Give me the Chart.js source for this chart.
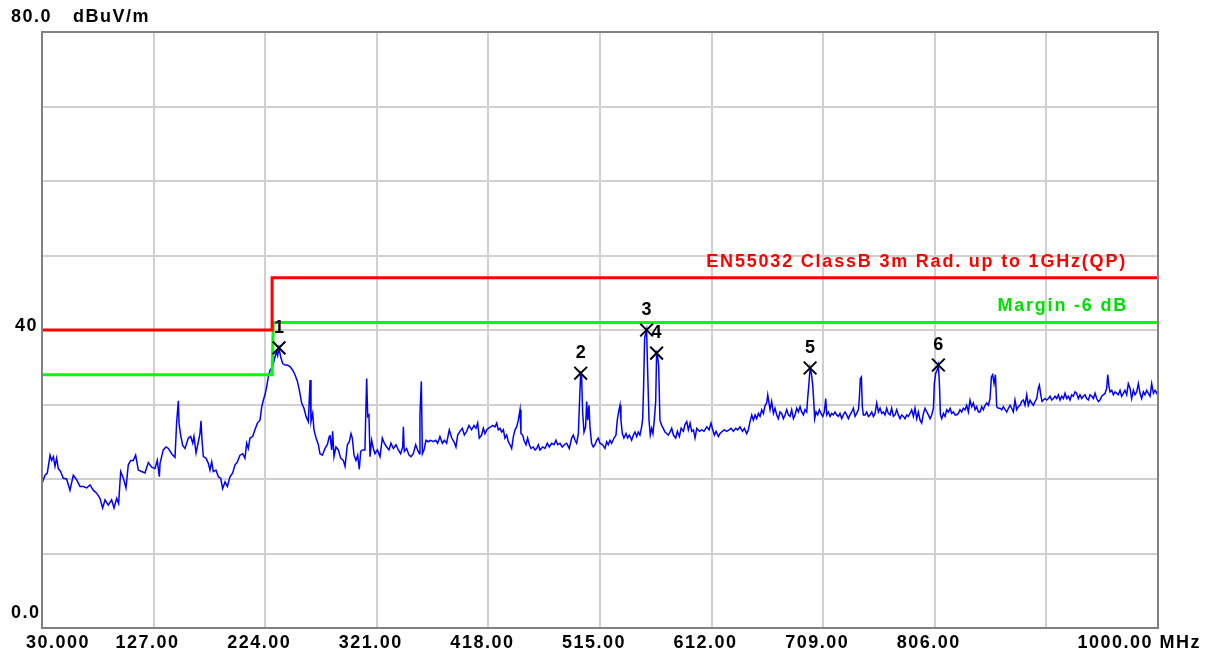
<!DOCTYPE html>
<html>
<head>
<meta charset="utf-8">
<title>EN55032 radiated emission</title>
<script src="https://cdn.jsdelivr.net/npm/chart.js@4.4.1/dist/chart.umd.min.js"></script>
<style>
  html, body { margin: 0; padding: 0; background: #fff; }
  #wrap { width: 1209px; height: 657px; position: relative; }
</style>
</head>
<body>
<div id="wrap"><canvas id="emi"></canvas></div>
<script>
// x axis (MHz) and y axis (dBuV/m)
const xTicks = [30, 127, 224, 321, 418, 515, 612, 709, 806, 903, 1000];
const xTickLabels = ['30.000', '127.00', '224.00', '321.00', '418.00', '515.00', '612.00', '709.00', '806.00', '', '1000.00 MHz'];
const yMin = 0, yMax = 80, yStep = 10;
const yLabels = [[80, '80.0'], [40, '40'], [0, '0.0']];
const yUnit = 'dBuV/m';

// limit line and margin line (step at 230 MHz)
const limitFreq = [30, 230, 230, 1000];
const limitLevel = [40, 40, 47, 47];
const marginFreq = [30, 230, 231, 1000];
const marginLevel = [34, 34, 41, 41];
const limitText = 'EN55032 ClassB 3m Rad. up to 1GHz(QP)';
const marginText = 'Margin -6 dB';

// measured peaks
const markerFreq = [236.0, 498.2, 555.5, 564.2, 697.6, 809.1];
const markerLevel = [37.6, 34.2, 40.0, 36.9, 34.9, 35.3];
const markerLabel = ['1', '2', '3', '4', '5', '6'];

// scan trace
const traceFreq = [
  // 30 - 157 MHz
  30.0, 32.6, 34.6, 37.0, 38.4, 39.9, 41.3, 42.7, 44.2, 46.2,
  48.5, 51.4, 54.3, 57.2, 60.1, 63.0, 65.9, 68.8, 71.7, 74.6,
  77.5, 80.4, 82.7, 84.8, 87.6, 90.5, 92.6, 94.9, 96.6, 98.4,
  100.7, 103.0, 105.0, 107.1, 109.4, 111.4, 113.7, 116.6, 119.5, 122.4,
  125.3, 128.2, 130.2, 132.0, 132.6, 135.4, 137.8, 139.8, 142.7, 145.6,
  147.0, 148.5, 149.1, 150.5, 152.3, 154.3, 157.2,
  // 159 - 280 MHz
  159.2, 161.0, 162.1, 163.9, 165.9, 167.3, 168.2, 169.1, 170.2, 172.5,
  174.6, 176.0, 177.5, 178.9, 181.2, 183.3, 185.3, 187.0, 189.1, 191.1,
  193.4, 195.7, 197.8, 199.8, 202.1, 204.4, 206.4, 207.9, 209.3, 210.8,
  213.1, 215.1, 217.2, 219.5, 221.0, 222.4, 223.8, 225.3, 226.7, 228.2,
  229.6, 231.1, 232.5, 234.0, 234.8, 236.0, 237.4, 239.2, 241.2, 243.2,
  245.6, 247.9, 249.9, 252.0, 253.7, 255.7, 257.7, 259.5, 261.5, 263.0,
  263.8, 265.3, 266.4, 268.2, 270.2, 271.6, 273.7, 276.0, 278.0, 279.7,
  // 280 - 410 MHz
  280.3, 281.8, 282.6, 283.8, 285.5, 287.6, 289.6, 291.9, 293.4, 295.4,
  297.1, 298.6, 299.7, 301.2, 302.9, 304.4, 305.8, 307.0, 308.7, 310.7,
  311.3, 312.2, 313.1, 314.2, 315.1, 316.5, 318.0, 319.4, 321.5, 323.8,
  325.8, 327.5, 329.6, 331.6, 333.3, 335.4, 337.7, 339.7, 341.7, 343.5,
  344.1, 344.9, 346.9, 349.0, 350.7, 352.7, 354.8, 356.5, 358.0, 358.5,
  359.7, 360.6, 362.0, 363.8, 365.8, 367.8, 370.1, 372.2, 373.9, 375.9,
  378.0, 379.7, 381.7, 384.0, 386.1, 388.1, 389.8, 391.3, 393.3, 395.3,
  397.1, 399.1, 401.1, 403.4, 405.5, 407.2, 408.7, 410.1,
  // 412 - 576 MHz
  412.1, 413.6, 415.0, 416.5, 417.9, 420.0, 421.7, 423.7, 425.2, 426.6,
  428.1, 429.5, 431.0, 432.4, 433.9, 435.3, 436.8, 438.2, 439.7, 441.1,
  442.6, 444.0, 445.5, 446.3, 447.8, 448.9, 450.7, 452.1, 453.6, 455.0,
  457.0, 458.5, 459.9, 461.4, 462.8, 465.2, 467.2, 469.2, 470.9, 473.0,
  475.0, 476.7, 478.2, 480.2, 482.2, 484.0, 486.0, 488.3, 490.4, 491.8,
  493.3, 494.7, 496.2, 497.0, 498.2, 499.0, 499.9, 501.1, 502.5, 503.4,
  504.3, 505.4, 506.3, 507.7, 509.2, 510.6, 512.1, 513.5, 515.0, 517.3,
  519.3, 520.8, 522.2, 523.7, 525.1, 527.2, 528.9, 530.0, 531.2, 532.4,
  533.2, 534.4, 535.8, 537.6, 539.0, 540.5, 542.5, 544.0, 545.4, 546.9,
  548.3, 549.7, 551.2, 552.1, 552.9, 553.8, 554.7, 555.5, 556.4, 557.6,
  558.7, 559.9, 561.0, 562.2, 563.4, 564.2, 565.1, 566.0, 567.1, 568.6,
  570.0, 571.5, 572.9, 574.4, 575.8,
  // 577 - 785 MHz
  577.3, 578.8, 580.8, 582.3, 584.0, 585.5, 587.5, 588.9, 590.4, 591.8,
  593.3, 594.7, 596.2, 597.6, 599.1, 601.4, 603.4, 605.4, 607.8, 609.8,
  611.5, 613.0, 614.4, 615.9, 617.9, 619.3, 621.4, 623.1, 625.1, 627.2,
  628.9, 630.9, 633.0, 634.7, 636.7, 638.8, 640.5, 642.5, 644.0, 645.4,
  646.9, 648.3, 649.8, 651.2, 652.7, 654.1, 655.6, 657.0, 658.5, 659.9,
  660.8, 661.9, 662.8, 664.2, 665.7, 667.1, 668.6, 670.0, 671.5, 672.9,
  674.4, 675.8, 677.3, 678.7, 680.2, 681.6, 683.1, 684.5, 686.0, 687.4,
  688.9, 690.3, 691.8, 693.2, 694.7, 695.5, 696.4, 697.6, 698.7, 699.9,
  700.7, 701.6, 702.8, 704.2, 705.7, 707.1, 708.6, 710.0, 711.2, 712.1,
  713.5, 715.0, 716.4, 717.8, 719.3, 720.7, 722.2, 723.6, 725.1, 726.5,
  728.0, 729.4, 730.9, 732.3, 733.8, 735.2, 736.7, 738.1, 739.6, 740.4,
  741.3, 742.2, 743.0, 743.9, 745.4, 746.8, 748.3, 749.7, 751.2, 752.6,
  754.1, 755.5, 757.0, 758.4, 759.9, 761.3, 762.7, 764.2, 765.6, 767.1,
  768.5, 770.0, 771.4, 772.9, 774.3, 775.8, 777.2, 778.7, 780.1, 781.6,
  783.0, 784.5,
  // 786 - 1000 MHz
  785.9, 787.4, 788.8, 790.3, 791.7, 793.2, 794.6, 796.1, 797.5, 799.0,
  800.4, 801.9, 803.3, 804.8, 805.6, 806.8, 808.0, 809.1, 810.0, 810.9,
  812.0, 813.5, 814.9, 816.4, 817.8, 819.3, 820.7, 822.2, 823.6, 825.0,
  826.5, 827.9, 829.4, 830.8, 832.3, 833.7, 835.2, 836.6, 838.1, 839.5,
  841.0, 842.4, 843.9, 845.3, 846.8, 848.2, 849.7, 851.1, 852.6, 854.0,
  855.2, 856.3, 857.5, 858.7, 859.8, 861.3, 862.7, 864.2, 865.6, 867.1,
  868.5, 870.0, 871.4, 872.8, 874.3, 875.7, 877.2, 878.6, 880.1, 881.5,
  883.0, 884.4, 885.9, 887.3, 888.8, 890.2, 891.7, 893.1, 894.6, 896.0,
  896.9, 898.1, 899.2, 900.4, 901.8, 903.3, 904.7, 906.2, 907.6, 909.1,
  910.5, 912.0, 913.4, 914.9, 916.3, 917.8, 919.2, 920.7, 922.1, 923.5,
  925.0, 926.4, 927.9, 929.3, 930.8, 932.2, 933.7, 935.1, 936.6, 938.0,
  939.5, 940.9, 942.4, 943.8, 945.3, 946.7, 948.2, 949.6, 951.1, 952.5,
  954.0, 955.4, 956.3, 957.4, 958.3, 959.8, 961.2, 962.7, 964.1, 965.5,
  967.0, 968.4, 969.9, 971.3, 972.8, 974.2, 975.7, 977.1, 978.6, 980.0,
  981.5, 982.9, 984.4, 985.8, 987.3, 988.7, 990.2, 991.6, 993.1, 994.5,
  996.0, 997.4, 998.9, 1000.0
];
const traceLevel = [
  // 30 - 157 MHz
  19.4, 20.5, 20.8, 23.2, 22.5, 23.0, 21.7, 22.8, 21.4, 21.0,
  20.1, 20.0, 18.5, 20.5, 19.9, 19.0, 19.0, 18.8, 19.2, 18.5,
  18.1, 17.4, 16.1, 17.2, 16.5, 17.2, 16.1, 17.4, 16.7, 21.0,
  20.1, 18.8, 21.9, 22.5, 22.5, 23.2, 21.2, 21.0, 20.8, 22.2,
  21.6, 21.4, 22.5, 20.3, 22.1, 23.9, 24.3, 24.1, 23.4, 22.9,
  27.5, 30.5, 27.5, 25.9, 24.5, 24.1, 25.5,
  // 159 - 280 MHz
  25.7, 24.8, 25.7, 23.5, 25.0, 26.1, 27.8, 25.2, 23.0, 22.8,
  22.1, 21.2, 22.3, 21.0, 21.2, 20.3, 20.1, 18.7, 19.6, 19.0,
  20.3, 20.8, 21.9, 22.3, 23.2, 23.4, 22.8, 24.8, 24.1, 25.5,
  25.7, 26.6, 27.5, 27.9, 29.7, 30.6, 31.3, 32.4, 33.7, 34.6,
  34.9, 35.5, 36.4, 37.1, 36.6, 37.6, 36.4, 35.5, 35.3, 35.3,
  35.1, 34.6, 34.0, 33.1, 31.9, 30.2, 29.5, 28.4, 27.7, 33.3,
  27.7, 28.8, 26.6, 25.5, 24.6, 23.4, 23.2, 24.1, 24.6, 25.7,
  // 280 - 410 MHz
  25.9, 23.9, 26.4, 23.0, 24.3, 23.9, 22.8, 22.5, 21.7, 24.6,
  25.0, 26.1, 25.5, 23.2, 22.5, 23.2, 21.3, 23.7, 23.9, 23.9,
  28.1, 33.5, 28.4, 28.6, 23.0, 25.2, 24.1, 23.4, 23.9, 23.0,
  25.5, 24.8, 24.3, 23.9, 24.8, 24.1, 24.6, 23.9, 23.4, 24.3,
  27.0, 23.7, 24.1, 23.2, 23.0, 23.4, 24.6, 23.9, 23.4, 28.6,
  33.1, 23.4, 23.9, 25.2, 25.0, 25.2, 25.0, 25.2, 24.8, 25.7,
  24.8, 25.2, 24.8, 26.6, 25.5, 25.0, 24.3, 25.9, 26.4, 26.8,
  25.9, 26.4, 27.2, 26.6, 27.2, 26.8, 27.5, 25.5,
  // 412 - 576 MHz
  25.9, 26.8, 26.1, 26.6, 26.8, 27.0, 27.2, 27.0, 27.5, 26.6,
  26.8, 26.3, 26.6, 25.5, 25.9, 25.0, 24.6, 24.1, 25.7, 26.6,
  27.0, 27.9, 29.3, 26.1, 25.9, 25.2, 24.6, 25.5, 24.6, 24.1,
  24.3, 23.9, 24.1, 24.6, 23.9, 24.3, 24.1, 24.8, 24.3, 24.8,
  24.6, 25.2, 24.6, 24.8, 24.3, 24.6, 24.8, 24.1, 25.5, 25.9,
  25.2, 24.8, 26.1, 29.5, 34.2, 34.0, 29.0, 26.3, 27.0, 30.4,
  27.9, 29.9, 27.0, 24.8, 24.3, 24.6, 25.2, 25.5, 24.8, 24.6,
  24.1, 25.0, 24.6, 25.2, 24.8, 25.5, 25.9, 27.9, 29.0, 29.9,
  27.9, 26.1, 25.5, 26.1, 25.5, 25.9, 25.2, 25.9, 26.3, 25.7,
  26.3, 25.9, 27.0, 28.1, 32.4, 38.9, 39.5, 40.0, 34.6, 27.9,
  25.9, 26.8, 26.1, 27.9, 30.4, 36.9, 36.5, 35.1, 27.9, 27.2,
  26.8, 26.3, 26.1, 25.9, 26.3,
  // 577 - 785 MHz
  26.8, 25.9, 25.5, 26.4, 25.7, 26.8, 26.4, 27.3, 27.7, 26.6,
  27.5, 26.4, 26.6, 25.5, 26.8, 26.4, 26.6, 26.4, 27.0, 26.6,
  27.5, 26.6, 25.9, 26.4, 25.7, 26.1, 26.4, 26.6, 26.4, 26.6,
  26.8, 26.4, 26.8, 26.6, 27.0, 26.4, 26.8, 26.1, 26.6, 27.7,
  28.6, 27.9, 28.6, 28.1, 28.8, 28.4, 29.3, 28.8, 29.9, 30.2,
  31.3, 30.2, 29.3, 30.4, 28.8, 29.5, 28.6, 28.1, 29.0, 28.8,
  28.1, 28.6, 29.3, 28.6, 28.4, 29.3, 28.1, 28.6, 29.5, 29.0,
  29.7, 29.0, 28.6, 29.3, 29.0, 30.8, 32.4, 34.9, 34.2, 32.6,
  30.6, 28.1, 29.0, 28.6, 29.3, 28.8, 28.4, 29.0, 30.8, 28.6,
  29.0, 28.4, 28.8, 28.6, 29.0, 28.6, 28.4, 28.8, 28.1, 28.6,
  29.0, 28.6, 28.1, 28.6, 29.0, 29.5, 28.4, 28.8, 29.3, 30.8,
  33.5, 33.7, 29.7, 28.6, 28.6, 29.0, 28.4, 28.6, 29.0, 28.4,
  28.8, 30.2, 29.0, 29.5, 28.8, 29.0, 28.6, 29.5, 28.8, 28.6,
  29.5, 28.4, 28.6, 29.3, 28.6, 28.1, 28.6, 28.4, 28.1, 28.6,
  28.4, 28.8,
  // 786 - 1000 MHz
  29.3, 28.4, 29.5, 28.1, 29.0, 27.9, 27.5, 28.8, 29.5, 29.0,
  28.6, 28.1, 28.6, 29.5, 32.8, 34.2, 34.6, 35.3, 32.8, 28.6,
  28.1, 28.8, 28.4, 29.3, 29.0, 29.5, 28.8, 29.0, 28.6, 28.6,
  28.8, 29.3, 29.0, 29.5, 29.3, 29.9, 29.0, 30.6, 29.7, 30.2,
  29.3, 29.7, 29.0, 29.0, 29.7, 29.3, 29.9, 30.2, 29.9, 30.8,
  33.7, 34.0, 32.8, 34.0, 29.7, 29.5, 29.5, 29.3, 29.7, 29.3,
  29.0, 29.5, 29.9, 29.5, 29.0, 30.6, 29.3, 29.7, 29.9, 30.4,
  30.6, 29.9, 31.3, 29.9, 30.6, 30.2, 29.9, 30.4, 30.8, 32.2,
  32.6, 31.3, 30.4, 30.6, 30.8, 30.6, 30.8, 31.1, 30.6, 30.8,
  31.1, 30.8, 31.3, 30.6, 31.1, 30.8, 31.5, 30.8, 31.1, 30.6,
  31.3, 31.1, 31.7, 31.5, 30.8, 31.3, 30.8, 31.1, 31.3, 30.8,
  30.6, 31.3, 31.1, 30.8, 31.5, 30.8, 30.4, 30.6, 31.1, 31.3,
  31.5, 32.2, 34.0, 32.4, 31.7, 31.9, 31.3, 31.7, 31.5, 31.3,
  31.9, 31.1, 31.5, 31.9, 31.3, 32.8, 32.2, 30.8, 31.9, 31.3,
  31.7, 32.8, 31.5, 30.8, 31.7, 31.3, 31.9, 31.5, 31.1, 32.8,
  31.5, 31.9, 31.5, 31.9
];

const toPoints = (xs, ys) => xs.slice(0, Math.min(xs.length, ys.length)).map((v, i) => ({ x: v, y: ys[i] }));
if (traceFreq.length !== traceLevel.length) console.warn('trace length mismatch', traceFreq.length, traceLevel.length);

const FONT = 'bold 18px "Liberation Sans", Arial, sans-serif';

// frame, axis texts, line captions and peak numbers
const emcOverlay = {
  id: 'emcOverlay',
  afterDatasetsDraw(chart) {
    const { ctx, chartArea: a, scales: { x, y } } = chart;
    ctx.save();
    ctx.strokeStyle = '#808080';
    ctx.lineWidth = 2;
    ctx.strokeRect(a.left, a.top, a.right - a.left, a.bottom - a.top);

    ctx.font = FONT;
    ctx.letterSpacing = '1.5px';
    ctx.fillStyle = '#000';
    ctx.textBaseline = 'middle';

    xTicks.forEach((v, i) => {
      const t = xTickLabels[i];
      if (!t) return;
      let px = x.getPixelForValue(v) - 6;
      ctx.textAlign = 'center';
      if (i === 0) { ctx.textAlign = 'left'; px = a.left - 16; }
      if (i === xTicks.length - 1) { ctx.textAlign = 'right'; px = a.right + 43; }
      ctx.fillText(t, px, a.bottom + 15);
    });

    yLabels.forEach(([v, t]) => {
      const py = y.getPixelForValue(v);
      if (v === 40) {
        ctx.textAlign = 'right';
        ctx.fillText(t, a.left - 4, py - 4);
      } else {
        ctx.textAlign = 'left';
        ctx.fillText(t, 11, py - 15);
      }
    });
    ctx.textAlign = 'left';
    ctx.fillText(yUnit, 73, y.getPixelForValue(yMax) - 15);

    // captions above the limit lines
    ctx.textAlign = 'right';
    ctx.letterSpacing = '1.8px';
    ctx.fillStyle = '#ff0000';
    ctx.fillText(limitText, a.right - 31, y.getPixelForValue(limitLevel[3]) - 16);
    ctx.fillStyle = '#00e000';
    ctx.fillText(marginText, a.right - 30, y.getPixelForValue(marginLevel[3]) - 17);

    // peak numbers
    ctx.letterSpacing = '0px';
    ctx.textAlign = 'center';
    ctx.fillStyle = '#000';
    markerFreq.forEach((f, i) => {
      ctx.fillText(markerLabel[i], x.getPixelForValue(f), y.getPixelForValue(markerLevel[i]) - 20);
    });
    ctx.restore();
  }
};

new Chart(document.getElementById('emi'), {
  type: 'scatter',
  data: {
    datasets: [
      {
        label: 'Peaks',
        data: toPoints(markerFreq, markerLevel),
        showLine: false,
        pointStyle: 'crossRot',
        pointRadius: 9,
        pointBorderWidth: 2,
        borderColor: '#000',
        backgroundColor: '#000',
        order: 0
      },
      {
        label: 'Limit',
        data: toPoints(limitFreq, limitLevel),
        showLine: true,
        borderColor: '#ff0000',
        borderWidth: 3,
        pointRadius: 0,
        order: 1
      },
      {
        label: 'Margin',
        data: toPoints(marginFreq, marginLevel),
        showLine: true,
        borderColor: '#00ff00',
        borderWidth: 3,
        pointRadius: 0,
        order: 2
      },
      {
        label: 'Trace',
        data: toPoints(traceFreq, traceLevel),
        showLine: true,
        borderColor: '#0000ff',
        borderWidth: 1.5,
        pointRadius: 0,
        order: 3
      }
    ]
  },
  options: {
    responsive: true,
    maintainAspectRatio: false,
    animation: false,
    layout: { padding: { left: 42, top: 32, right: 51, bottom: 29 } },
    plugins: { legend: { display: false }, tooltip: { enabled: false } },
    scales: {
      x: {
        type: 'linear',
        min: xTicks[0],
        max: xTicks[xTicks.length - 1],
        afterBuildTicks: (scale) => { scale.ticks = xTicks.map(v => ({ value: v })); },
        ticks: { display: false },
        grid: { color: '#d0d0d0', lineWidth: 2, drawTicks: false },
        border: { display: false }
      },
      y: {
        min: yMin,
        max: yMax,
        ticks: { display: false, stepSize: yStep },
        grid: { color: '#d0d0d0', lineWidth: 2, drawTicks: false },
        border: { display: false }
      }
    }
  },
  plugins: [emcOverlay]
});
</script>
</body>
</html>
